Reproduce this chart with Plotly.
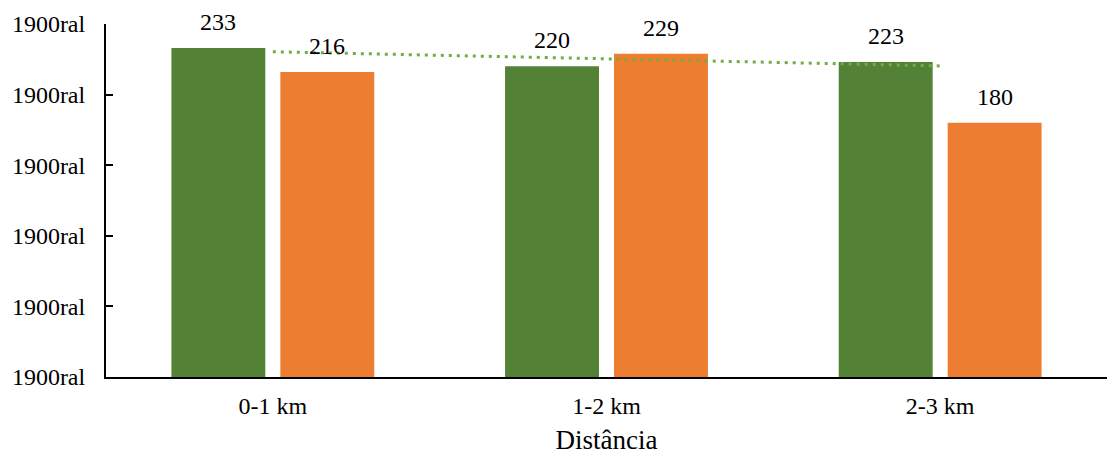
import numpy as np
import plotly.graph_objects as go

# Data
categories = ["0-1 km", "1-2 km", "2-3 km"]
green_values = [233, 220, 223]
orange_values = [216, 229, 180]
y_tickvals = [0, 50, 100, 150, 200, 250]
y_ticktext = ["1900ral"] * 6
x_title = "Distância"

GREEN = "#538135"
ORANGE = "#ED7D31"
TREND = "#70AD47"
FONT = "Times New Roman, Liberation Serif, DejaVu Serif, serif"
FSIZE = 24
TITLE_SIZE = 27

BARGAP = 0.347
BARGROUPGAP = 0.138

fig = go.Figure()
fig.add_trace(go.Bar(x=categories, y=green_values, marker=dict(color=GREEN, line=dict(width=0)),
                     showlegend=False, hoverinfo="skip"))
fig.add_trace(go.Bar(x=categories, y=orange_values, marker=dict(color=ORANGE, line=dict(width=0)),
                     showlegend=False, hoverinfo="skip"))

# Linear trend of the green series
idx = np.arange(len(categories), dtype=float)
slope, intercept = np.polyfit(idx, green_values, 1)
trend = slope * idx + intercept
fig.add_trace(go.Scatter(x=categories, y=trend, mode="lines",
                         line=dict(color=TREND, width=3, dash="3px,5px"),
                         showlegend=False, hoverinfo="skip"))

# Value labels above each bar
half_slot = (1 - BARGAP) / 4
for i, (g, o) in enumerate(zip(green_values, orange_values)):
    for val, off in ((g, -half_slot), (o, half_slot)):
        fig.add_annotation(x=i + off, y=val, xref="x", yref="y", text=str(val),
                           showarrow=False, yanchor="bottom", yshift=11,
                           font=dict(family=FONT, size=FSIZE, color="black"))

fig.update_layout(
    width=1107, height=455,
    margin=dict(l=106, r=0, t=24, b=78),
    paper_bgcolor="white", plot_bgcolor="white",
    barmode="group", bargap=BARGAP, bargroupgap=BARGROUPGAP,
    font=dict(family=FONT, size=FSIZE, color="black"),
)
fig.update_xaxes(
    showline=True, linecolor="black", linewidth=2, ticks="", showgrid=False,
    tickfont=dict(family=FONT, size=FSIZE, color="black"),
    title=dict(text=x_title, font=dict(family=FONT, size=TITLE_SIZE, color="black"), standoff=13),
    ticklabelstandoff=6,
)
fig.update_yaxes(
    range=[0, 250], tickvals=y_tickvals, ticktext=y_ticktext,
    showline=True, linecolor="black", linewidth=2, ticks="inside", ticklen=7, tickwidth=2,
    tickcolor="black", showgrid=False, zeroline=False,
    tickfont=dict(family=FONT, size=FSIZE, color="black"),
    ticklabelstandoff=14,
)

fig.write_html("out.html")
